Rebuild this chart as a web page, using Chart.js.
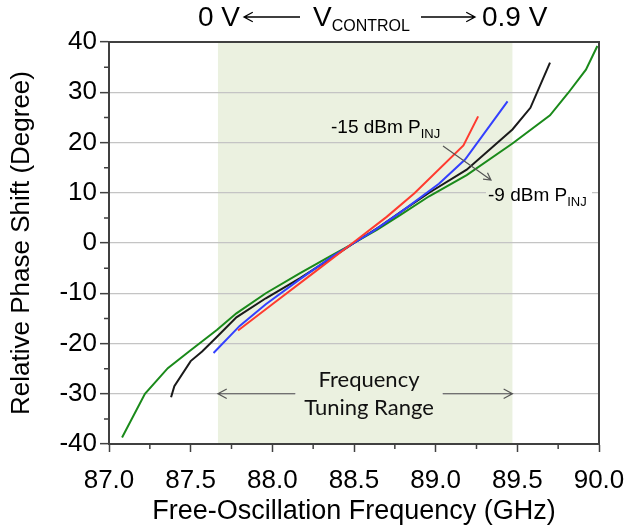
<!DOCTYPE html>
<html>
<head>
<meta charset="utf-8">
<script src="https://cdn.jsdelivr.net/npm/chart.js@4/dist/chart.umd.min.js"></script>
<style>
  html, body { margin: 0; padding: 0; background: #fff; }
</style>
</head>
<body>
<canvas id="myChart" width="629" height="531"></canvas>
<script>
// phase vs free-oscillation frequency, one curve per injected power
const freqM15 = [87.79, 88.00, 88.25, 88.50, 88.70, 88.87, 89.17, 89.26];
const phaseM15 = [-17.4, -12.2, -6.0, 0.2, 5.2, 9.9, 19.4, 25.2];

const freqM13 = [87.64, 87.80, 87.96, 88.17, 88.37, 88.50, 88.62, 88.78, 89.02, 89.18, 89.44];
const phaseM13 = [-21.9, -16.5, -12.2, -7.2, -2.6, 0.0, 2.4, 6.0, 11.8, 16.6, 28.2];

const freqM11 = [87.38, 87.40, 87.50, 87.57, 87.66, 87.78, 87.96, 88.17, 88.37, 88.50, 88.66, 88.80, 88.96, 89.19, 89.47, 89.58, 89.70];
const phaseM11 = [-30.7, -28.5, -23.5, -21.6, -18.7, -14.8, -11.0, -7.0, -2.8, 0.0, 3.3, 6.5, 10.0, 14.6, 22.6, 26.9, 35.9];

const freqM9 = [87.08, 87.22, 87.36, 87.49, 87.66, 87.78, 87.96, 88.17, 88.35, 88.50, 88.64, 88.78, 88.96, 89.19, 89.47, 89.70, 89.81, 89.92, 89.99];
const phaseM9 = [-38.7, -30.0, -24.9, -21.6, -17.3, -14.0, -10.0, -6.0, -2.7, 0.0, 2.6, 5.5, 9.3, 13.5, 19.8, 25.4, 29.8, 34.5, 39.2];

// tuning range (shaded band) in GHz
const tuneStart = 87.667;
const tuneEnd = 89.47;

const xMin = 87, xMax = 90, xStep = 0.5;
const yMin = -40, yMax = 40, yStep = 10;

const shadeColor = "#ebf1e0";
const axisColor = "#404040";

function toPoints(xs, ys) {
  return xs.map((x, i) => ({ x: x, y: ys[i] }));
}

function arrow(c, x0, y0, x1, y1, head) {
  c.beginPath();
  c.moveTo(x0, y0);
  c.lineTo(x1, y1);
  const ang = Math.atan2(y1 - y0, x1 - x0);
  c.moveTo(x1 - head * Math.cos(ang - 0.5), y1 - head * Math.sin(ang - 0.5));
  c.lineTo(x1, y1);
  c.lineTo(x1 - head * Math.cos(ang + 0.5), y1 - head * Math.sin(ang + 0.5));
  c.stroke();
}

// text with a subscript, starting at x (left aligned)
function subText(c, main, sub, x, y, mainFont, subFont, drop) {
  c.textAlign = "left";
  c.textBaseline = "alphabetic";
  c.font = mainFont;
  c.fillText(main, x, y);
  const w = c.measureText(main).width;
  c.font = subFont;
  c.fillText(sub, x + w, y + drop);
  return x + w + c.measureText(sub).width;
}

const decor = {
  id: "decor",
  beforeDraw(chart) {
    const c = chart.ctx, a = chart.chartArea, sx = chart.scales.x;
    c.save();
    c.fillStyle = "#fff";
    c.fillRect(0, 0, chart.width, chart.height);
    const x0 = sx.getPixelForValue(tuneStart), x1 = sx.getPixelForValue(tuneEnd);
    c.fillStyle = shadeColor;
    c.fillRect(x0, a.top, x1 - x0, a.bottom - a.top);
    c.restore();
  },
  beforeDatasetsDraw(chart) {
    // boxes behind labels hide the grid lines
    const c = chart.ctx, sx = chart.scales.x;
    const xe = sx.getPixelForValue(tuneEnd);
    c.save();
    c.fillStyle = shadeColor;
    c.fillRect(486, 186, xe - 486, 24);
    c.fillStyle = "#fff";
    c.fillRect(xe, 186, 592 - xe, 24);
    c.fillStyle = shadeColor;
    c.fillRect(296, 366, 146, 56);
    c.restore();
  },
  afterDraw(chart) {
    const c = chart.ctx, a = chart.chartArea, sx = chart.scales.x, sy = chart.scales.y;
    c.save();

    // top and right frame
    c.strokeStyle = axisColor;
    c.lineWidth = 2;
    c.beginPath();
    c.moveTo(a.left, a.top);
    c.lineTo(a.right, a.top);
    c.lineTo(a.right, a.bottom);
    c.stroke();

    // minor ticks
    c.lineWidth = 1.5;
    c.beginPath();
    for (let v = yMin + yStep / 2; v < yMax; v += yStep) {
      const y = sy.getPixelForValue(v);
      c.moveTo(a.left - 5, y);
      c.lineTo(a.left, y);
    }
    for (let f = xMin + xStep / 2; f < xMax; f += xStep) {
      const x = sx.getPixelForValue(f);
      c.moveTo(x, a.bottom);
      c.lineTo(x, a.bottom + 5);
    }
    c.stroke();

    // V control header
    c.fillStyle = "#000";
    c.strokeStyle = "#000";
    c.lineWidth = 1.3;
    c.font = "28px 'Liberation Sans'";
    c.textBaseline = "alphabetic";
    c.textAlign = "left";
    c.fillText("0 V", 198, 26);
    arrow(c, 300, 17, 244, 17, 10);
    subText(c, "V", "CONTROL", 313, 26, "28px 'Liberation Sans'", "16px 'Liberation Sans'", 5);
    arrow(c, 421, 17, 475, 17, 10);
    c.font = "28px 'Liberation Sans'";
    c.fillText("0.9 V", 482, 26);

    // power labels
    subText(c, "-15 dBm P", "INJ", 331, 133, "19px 'Liberation Sans'", "13px 'Liberation Sans'", 5);
    subText(c, "-9 dBm P", "INJ", 488, 201, "19px 'Liberation Sans'", "13px 'Liberation Sans'", 5);
    c.strokeStyle = "#555";
    c.lineWidth = 1.2;
    arrow(c, 443, 146, 491, 180, 8);

    // tuning range
    const yArr = sy.getPixelForValue(-30);
    const xs = sx.getPixelForValue(tuneStart), xe = sx.getPixelForValue(tuneEnd);
    arrow(c, 295, yArr, xs, yArr, 10);
    arrow(c, 443, yArr, xe, yArr, 10);
    c.fillStyle = "#111";
    c.font = "22px Lato";
    c.textAlign = "center";
    c.fillText("Frequency", 369, 387);
    c.fillText("Tuning Range", 369, 415);

    c.restore();
  }
};

const tickFont = { family: "'Liberation Sans'", size: 26 };

const ctx = document.getElementById("myChart").getContext("2d");
const myChart = new Chart(ctx, {
  type: "line",
  data: {
    datasets: [
      { label: "-15 dBm", data: toPoints(freqM15, phaseM15), borderColor: "#ff3b2f" },
      { label: "-13 dBm", data: toPoints(freqM13, phaseM13), borderColor: "#3340ff" },
      { label: "-11 dBm", data: toPoints(freqM11, phaseM11), borderColor: "#1a1a1a" },
      { label: "-9 dBm", data: toPoints(freqM9, phaseM9), borderColor: "#1a8a1a" },
    ],
  },
  options: {
    responsive: false,
    animation: false,
    events: [],
    datasets: {
      line: { borderWidth: 2, pointRadius: 0, tension: 0, fill: false },
    },
    layout: { padding: { top: 42, right: 30, left: 0, bottom: 0 } },
    plugins: {
      legend: { display: false },
      tooltip: { enabled: false },
    },
    scales: {
      x: {
        type: "linear",
        min: xMin,
        max: xMax,
        afterFit: (s) => { s.height = 87; s.paddingLeft = 0; s.paddingRight = 0; },
        ticks: {
          stepSize: xStep,
          color: "#000",
          font: tickFont,
          padding: 13,
          maxRotation: 0,
          callback: (v) => v.toFixed(1),
        },
        grid: { drawOnChartArea: false, tickLength: 8, tickColor: axisColor, tickWidth: 1.5 },
        border: { color: axisColor, width: 2 },
        title: {
          display: true,
          text: "Free-Oscillation Frequency (GHz)",
          color: "#000",
          font: { family: "'Liberation Sans'", size: 27 },
          padding: { top: 0, bottom: 3 },
        },
      },
      y: {
        min: yMin,
        max: yMax,
        afterFit: (s) => { s.width = 109; s.paddingTop = 0; s.paddingBottom = 0; },
        ticks: { stepSize: yStep, color: "#000", font: tickFont, padding: 3 },
        grid: { color: "#c4c4c4", lineWidth: 1.3, tickLength: 9, tickColor: axisColor, tickWidth: 1.5 },
        border: { color: axisColor, width: 2 },
        title: {
          display: true,
          text: "Relative Phase Shift (Degree)",
          color: "#000",
          font: { family: "'Liberation Sans'", size: 26 },
          padding: { top: 6, bottom: 0 },
        },
      },
    },
  },
  plugins: [decor],
});
</script>
</body>
</html>
